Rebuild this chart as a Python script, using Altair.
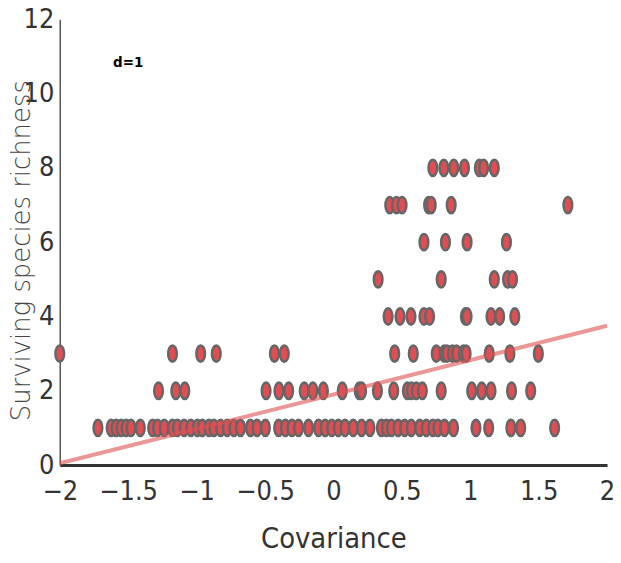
import altair as alt
import pandas as pd

# Covariance values, grouped by surviving species richness
row1 = [-1.721, -1.624, -1.588, -1.551, -1.515, -1.479, -1.411, -1.321, -1.285, -1.236,
        -1.176, -1.140, -1.091, -1.042, -0.994, -0.958, -0.909, -0.873, -0.824, -0.776,
        -0.727, -0.679, -0.606, -0.558, -0.497, -0.400, -0.351, -0.303, -0.255, -0.182,
        -0.109, -0.060, -0.012, 0.036, 0.085, 0.145, 0.206, 0.267, 0.351, 0.388, 0.424,
        0.473, 0.521, 0.569, 0.631, 0.679, 0.727, 0.764, 0.812, 0.878, 1.042, 1.135,
        1.297, 1.369, 1.617]
row2 = [-1.278, -1.152, -1.086, -0.492, -0.398, -0.327, -0.213, -0.150, -0.073, 0.065,
        0.189, 0.206, 0.322, 0.441, 0.541, 0.570, 0.606, 0.650, 0.788, 1.011, 1.084,
        1.152, 1.302, 1.442]
row3 = [-2.0, -1.176, -0.970, -0.856, -0.431, -0.359, 0.448, 0.584, 0.752, 0.810,
        0.830, 0.870, 0.900, 0.950, 0.970, 1.139, 1.290, 1.498]
row4 = [0.400, 0.487, 0.567, 0.662, 0.703, 0.965, 0.977, 1.152, 1.215, 1.326]
row5 = [0.327, 0.788, 1.176, 1.273, 1.309]
row6 = [0.662, 0.819, 0.977, 1.265]
row7 = [0.412, 0.461, 0.502, 0.696, 0.715, 0.861, 1.714]
row8 = [0.727, 0.807, 0.880, 0.958, 1.067, 1.098, 1.176]
rows = {1: row1, 2: row2, 3: row3, 4: row4, 5: row5, 6: row6, 7: row7, 8: row8}

fit_x = [-2.0, 2.0]
fit_y = [0.05, 3.75]

label_text = ["d=1"]
label_x = [-1.5]
label_y = [10.85]

x_ticks = [-2, -1.5, -1, -0.5, 0, 0.5, 1, 1.5, 2]
y_ticks = [0, 2, 4, 6, 8, 10, 12]

pts = pd.DataFrame(
    [{"cov": x, "rich": r} for r, xs in rows.items() for x in xs]
)
fit = pd.DataFrame({"cov": fit_x, "rich": fit_y})
lab = pd.DataFrame({"t": label_text, "cov": label_x, "rich": label_y})

TICKFONT = "Liberation Sans Narrow, DejaVu Sans Condensed, sans-serif"

xs = alt.Scale(domain=[-2, 2], nice=False, zero=False)
ys = alt.Scale(domain=[0, 12], nice=False)

xaxis = alt.Axis(
    values=x_ticks, ticks=False, grid=False, title="Covariance", format="~g",
    labelFont=TICKFONT, labelFontSize=27, labelColor="#333", labelPadding=14,
    labelFlush=False, labelExpr="replace(datum.label, '-', '\u2212')",
    domainColor="#333", domainWidth=3,
    titleFont=TICKFONT, titleFontSize=29, titleFontWeight="normal", titleColor="#333",
    titleX=275, titleY=74, titleBaseline="middle",
)
yaxis = alt.Axis(
    values=y_ticks, ticks=False, grid=False, title="Surviving species richness",
    labelFont=TICKFONT, labelFontSize=27, labelColor="#333", labelPadding=6,
    domainColor="#555", domainWidth=1.5,
    titleFont="DejaVu Sans", titleFontSize=26, titleFontWeight=200, titleColor="#444",
    titleX=-38, titleY=232, titleAngle=-90, titleBaseline="middle", titleAlign="center",
)

ellipse = "M -0.53,0 A 0.53,1 0 1,0 0.53,0 A 0.53,1 0 1,0 -0.53,0 Z"

points = alt.Chart(pts).mark_point(
    shape=ellipse, filled=True, size=270, fill="#e04e54", fillOpacity=1,
    stroke="#666666", strokeWidth=2.5, opacity=1,
).encode(
    x=alt.X("cov:Q", scale=xs, axis=xaxis),
    y=alt.Y("rich:Q", scale=ys, axis=yaxis),
)

line = alt.Chart(fit).mark_line(color="#e05050", opacity=0.6, strokeWidth=4).encode(
    x=alt.X("cov:Q", scale=xs),
    y=alt.Y("rich:Q", scale=ys),
)

text = alt.Chart(lab).mark_text(
    font=TICKFONT, fontSize=15, fontWeight="bold", color="#000"
).encode(
    x=alt.X("cov:Q", scale=xs),
    y=alt.Y("rich:Q", scale=ys),
    text="t:N",
)

chart = alt.layer(points, line, text).properties(
    width=550, height=448,
    autosize=alt.AutoSizeParams(type="none"),
    padding={"left": 52, "top": 10, "right": 6, "bottom": 89},
    background="white",
).configure_view(stroke=None)

chart.save("out.html", embed_options={"renderer": "svg", "actions": False})
